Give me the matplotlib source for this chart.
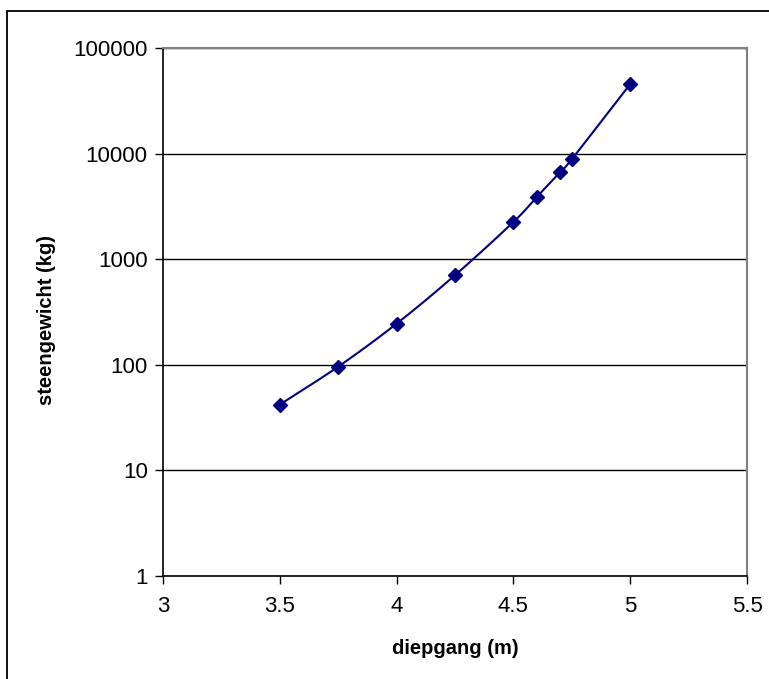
import numpy as np
import matplotlib
matplotlib.use("Agg")
import matplotlib.pyplot as plt
from matplotlib.patches import Rectangle

diepgang = [3.5, 3.75, 4.0, 4.25, 4.5, 4.6, 4.7, 4.75, 5.0]
steengewicht = [42, 96, 245, 705, 2250, 3880, 6700, 8850, 45500]
x_ticks = [3, 3.5, 4, 4.5, 5, 5.5]
x_tick_labels = ["3", "3.5", "4", "4.5", "5", "5.5"]
y_ticks = [1, 10, 100, 1000, 10000, 100000]
y_tick_labels = ["1", "10", "100", "1000", "10000", "100000"]

plt.rcParams['font.family'] = ['Liberation Sans', 'DejaVu Sans']

fig = plt.figure(figsize=(7.69, 6.79), dpi=100)
ax = fig.add_axes([163/769, 1-576/679, (747-163)/769, (576-48)/679])

# outer chart border
fig.patches.append(Rectangle((7/769, -0.05), 1.2, 1 - 11/679 + 0.05,
                             transform=fig.transFigure, fill=False,
                             edgecolor='black', linewidth=1.3, zorder=0))

ax.set_yscale('log')
ax.set_xlim(3, 5.5)
ax.set_ylim(1, 100000)

# smooth line (Bezier through points in screen-like coordinates: x, log10 y)
px = np.array(diepgang, dtype=float)
py = np.log10(np.array(steengewicht, dtype=float))
sx = (px - 3) / 2.5 * 584
sy = py / 5 * 528
P = np.column_stack([sx, sy])
Pp = np.vstack([P[0] - (P[1] - P[0]), P, P[-1] + (P[-1] - P[-2])])
cx, cy = [], []
for i in range(1, len(Pp) - 2):
    p0, p1, p2, p3 = Pp[i-1], Pp[i], Pp[i+1], Pp[i+2]
    c1 = p1 + (p2 - p0) / 6
    c2 = p2 - (p3 - p1) / 6
    t = np.linspace(0, 1, 30)[:, None]
    seg = (1-t)**3*p1 + 3*(1-t)**2*t*c1 + 3*(1-t)*t**2*c2 + t**3*p2
    cx.extend(seg[:, 0]); cy.extend(seg[:, 1])
cx = np.array(cx) / 584 * 2.5 + 3
cy = 10 ** (np.array(cy) / 528 * 5)
ax.plot(cx, cy, color='#000080', linewidth=1.5, zorder=3)
ax.plot(diepgang, steengewicht, linestyle='none', marker='D', markersize=7,
        color='#000080', zorder=4)

ax.set_xticks(x_ticks)
ax.set_xticklabels(x_tick_labels)
ax.set_yticks(y_ticks)
ax.set_yticklabels(y_tick_labels)
ax.yaxis.set_minor_locator(matplotlib.ticker.NullLocator())
ax.tick_params(axis='both', direction='out', length=6, width=1, labelsize=16,
               color='black', pad=5)
ax.tick_params(axis='x', pad=8.5)
ax.grid(axis='y', which='major', color='black', linewidth=1)
ax.set_axisbelow(True)

for s in ['left', 'bottom']:
    ax.spines[s].set_color('black')
    ax.spines[s].set_linewidth(1.2)
for s in ['top', 'right']:
    ax.spines[s].set_color('#808080')
    ax.spines[s].set_linewidth(1.5)

ax.set_xlabel('diepgang (m)', fontsize=14.5, fontweight='bold')
ax.set_ylabel('steengewicht (kg)', fontsize=14.5, fontweight='bold')
ax.xaxis.set_label_coords((455 - 163) / 584, (576 - 648) / 528)
ax.yaxis.set_label_coords((47 - 163) / 584, (576 - 320) / 528)
ax.xaxis.label.set_va('center')
ax.yaxis.label.set_va('center')

fig.savefig('out.png', dpi=100)
